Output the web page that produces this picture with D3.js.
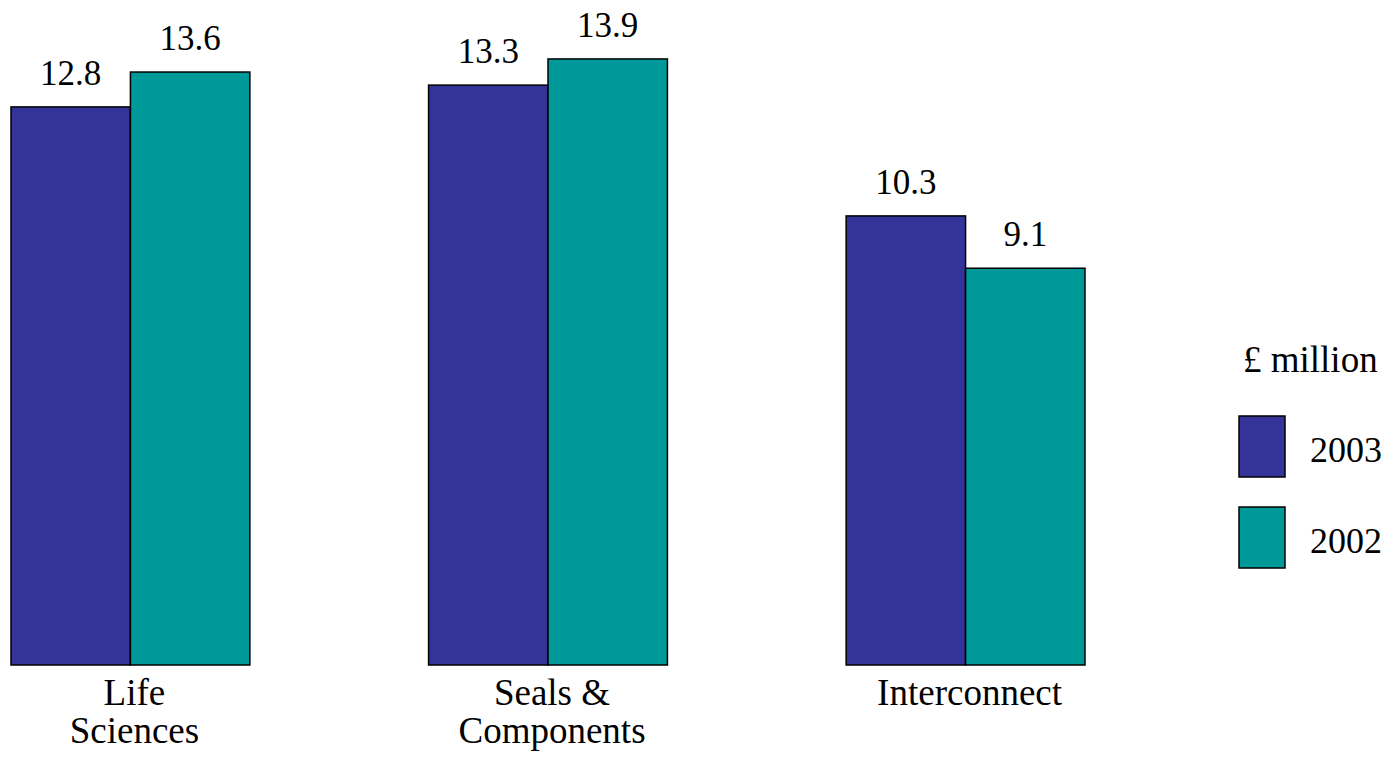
<!DOCTYPE html>
<html>
<head>
<meta charset="utf-8">
<script src="https://cdn.jsdelivr.net/npm/d3@7"></script>
<style>
  body { margin: 0; background: #fff; }
</style>
</head>
<body>
<div id="chart"></div>
<script>
const categories = [['Life', 'Sciences'], ['Seals &', 'Components'], ['Interconnect']]
const series = ['2003', '2002']
const values2003 = [12.8, 13.3, 10.3]
const values2002 = [13.6, 13.9, 9.1]
const unitLabel = '£ million'

const w = 1389, h = 758
const colors = ['#333399', '#009999']
const baseY = 665
const font = '"Liberation Serif", "Times New Roman", Times, serif'

let svg = d3.select('#chart').append('svg')
  .attr('width', w)
  .attr('height', h)
  .attr('font-family', font)
  .attr('font-size', 37)

let x0 = d3.scaleBand().domain(d3.range(categories.length)).range([11, 1085]).paddingInner(0.428)
let x1 = d3.scaleBand().domain(series).range([0, x0.bandwidth()])
let y = d3.scaleLinear().domain([0, 10]).range([baseY, baseY - 436])
let fill = d3.scaleOrdinal().domain(series).range(colors)

let rows = categories.map((c, i) => ({ i, vals: [values2003[i], values2002[i]] }))

let groups = svg.selectAll('.grp')
  .data(rows)
  .enter()
  .append('g')
  .attr('class', 'grp')
  .attr('transform', d => `translate(${x0(d.i)}, 0)`)

groups.selectAll('rect')
  .data(d => d.vals.map((v, j) => ({ key: series[j], v })))
  .enter()
  .append('rect')
  .attr('x', d => x1(d.key))
  .attr('y', d => y(d.v))
  .attr('width', x1.bandwidth())
  .attr('height', d => baseY - y(d.v))
  .attr('fill', d => fill(d.key))
  .attr('stroke', '#000')
  .attr('stroke-width', 1.5)

// value labels
groups.selectAll('.val')
  .data(d => d.vals.map((v, j) => ({ key: series[j], v })))
  .enter()
  .append('text')
  .attr('class', 'val')
  .attr('x', d => x1(d.key) + x1.bandwidth() / 2)
  .attr('y', d => y(d.v) - 22)
  .attr('text-anchor', 'middle')
  .attr('font-size', 35)
  .text(d => d.v.toFixed(1))

// category labels (sit a few px right of the group centre)
let labelX = x0.bandwidth() / 2 + 4
groups.append('text')
  .attr('x', labelX)
  .attr('y', 705)
  .attr('text-anchor', 'middle')
  .selectAll('tspan')
  .data(d => categories[d.i])
  .enter()
  .append('tspan')
  .attr('x', labelX)
  .attr('dy', (d, i) => i === 0 ? 0 : 38)
  .text(d => d)

// legend
let lg = svg.append('g').attr('transform', 'translate(1239, 0)')
lg.append('text')
  .attr('x', 4)
  .attr('y', 372)
  .text(unitLabel)

let items = lg.selectAll('.item')
  .data(series)
  .enter()
  .append('g')
  .attr('class', 'item')
  .attr('transform', (d, i) => `translate(0, ${416 + i * 91})`)

items.append('rect')
  .attr('width', 46)
  .attr('height', 61)
  .attr('fill', d => fill(d))
  .attr('stroke', '#000')
  .attr('stroke-width', 1.5)

items.append('text')
  .attr('x', 71)
  .attr('y', 46)
  .attr('font-size', 36)
  .text(d => d)
</script>
</body>
</html>
